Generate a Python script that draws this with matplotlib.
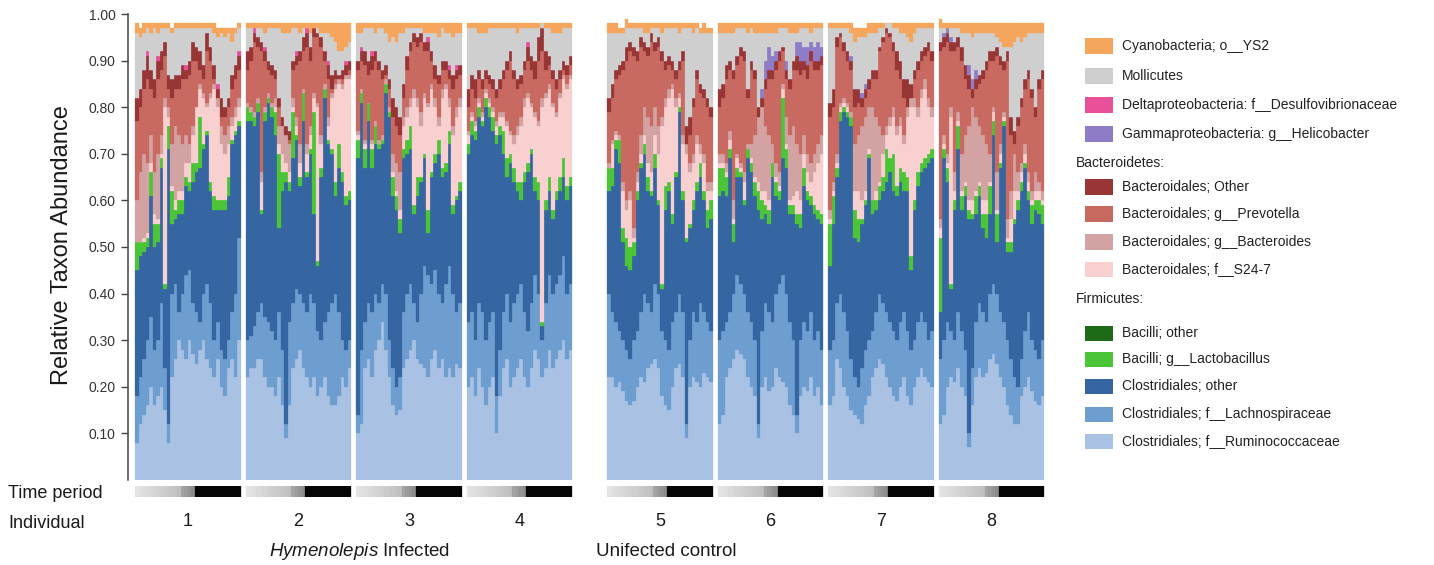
import matplotlib
matplotlib.use("Agg")
import matplotlib.pyplot as plt
import matplotlib.transforms as mtransforms
from matplotlib.patches import Rectangle
import numpy as np

plt.rcParams['font.family'] = ['Liberation Sans', 'DejaVu Sans']
plt.rcParams['mathtext.fontset'] = 'custom'
plt.rcParams['mathtext.it'] = 'Liberation Sans:italic'
plt.rcParams['mathtext.rm'] = 'Liberation Sans'

individuals = ['1', '2', '3', '4', '5', '6', '7', '8']

# cumulative levels (top edge of each layer), 30 samples per individual
top_ruminococcaceae = [
    [0.08,0.12,0.14,0.16,0.20,0.16,0.18,0.20,0.15,0.08, 0.22,0.26,0.30,0.28,0.26,0.30,0.27,0.25,0.28,0.30, 0.26,0.24,0.22,0.26,0.20,0.18,0.24,0.26,0.22,0.30],
    [0.22,0.24,0.24,0.26,0.26,0.22,0.20,0.20,0.18,0.22, 0.16,0.09,0.16,0.24,0.26,0.28,0.24,0.22,0.20,0.22, 0.18,0.20,0.22,0.18,0.16,0.16,0.18,0.22,0.20,0.24],
    [0.10,0.12,0.24,0.26,0.22,0.28,0.30,0.34,0.28,0.22, 0.16,0.14,0.15,0.24,0.26,0.28,0.30,0.26,0.25,0.24, 0.22,0.26,0.28,0.24,0.26,0.22,0.24,0.22,0.25,0.24],
    [0.20,0.22,0.18,0.24,0.20,0.16,0.20,0.22,0.10,0.18, 0.24,0.26,0.20,0.22,0.24,0.26,0.22,0.20,0.24,0.28, 0.26,0.22,0.24,0.28,0.24,0.26,0.28,0.30,0.26,0.28],
    [0.22,0.22,0.20,0.21,0.19,0.17,0.16,0.17,0.20,0.22, 0.21,0.24,0.25,0.26,0.24,0.18,0.16,0.15,0.20,0.24, 0.25,0.22,0.09,0.20,0.22,0.21,0.20,0.23,0.22,0.21],
    [0.12,0.14,0.22,0.24,0.26,0.28,0.27,0.26,0.22,0.20, 0.18,0.09,0.20,0.22,0.19,0.20,0.24,0.22,0.21,0.20, 0.16,0.14,0.10,0.18,0.20,0.19,0.22,0.18,0.20,0.16],
    [0.16,0.18,0.26,0.24,0.20,0.18,0.15,0.14,0.13,0.12, 0.16,0.18,0.22,0.24,0.26,0.25,0.22,0.20,0.18,0.17, 0.20,0.22,0.18,0.16,0.20,0.22,0.24,0.22,0.21,0.20],
    [0.12,0.14,0.20,0.22,0.21,0.24,0.20,0.18,0.07,0.16, 0.22,0.24,0.22,0.23,0.26,0.27,0.25,0.22,0.20,0.16, 0.14,0.12,0.12,0.18,0.20,0.22,0.19,0.17,0.16,0.18],
]
top_lachnospiraceae = [
    [0.18,0.22,0.26,0.30,0.35,0.28,0.30,0.38,0.24,0.12, 0.40,0.42,0.36,0.40,0.44,0.45,0.38,0.36,0.34,0.40, 0.42,0.38,0.30,0.34,0.28,0.26,0.30,0.36,0.40,0.52],
    [0.30,0.31,0.33,0.36,0.38,0.35,0.34,0.32,0.30,0.36, 0.28,0.12,0.34,0.38,0.41,0.40,0.38,0.36,0.40,0.38, 0.32,0.30,0.34,0.36,0.38,0.40,0.36,0.30,0.28,0.30],
    [0.14,0.28,0.34,0.38,0.36,0.40,0.38,0.42,0.40,0.30, 0.24,0.20,0.22,0.36,0.40,0.42,0.38,0.34,0.40,0.46, 0.44,0.42,0.45,0.40,0.38,0.42,0.46,0.40,0.36,0.38],
    [0.34,0.36,0.30,0.38,0.36,0.30,0.34,0.36,0.18,0.28, 0.36,0.40,0.34,0.38,0.40,0.42,0.36,0.32,0.38,0.44, 0.40,0.30,0.38,0.44,0.40,0.42,0.44,0.48,0.40,0.42],
    [0.40,0.36,0.34,0.32,0.30,0.28,0.26,0.30,0.32,0.36, 0.40,0.38,0.36,0.42,0.40,0.32,0.30,0.28,0.34,0.36, 0.40,0.36,0.12,0.30,0.36,0.34,0.38,0.36,0.34,0.32],
    [0.30,0.32,0.34,0.36,0.40,0.44,0.42,0.40,0.36,0.34, 0.30,0.12,0.32,0.38,0.36,0.34,0.40,0.42,0.44,0.40, 0.34,0.30,0.14,0.30,0.34,0.32,0.36,0.30,0.32,0.28],
    [0.28,0.30,0.38,0.40,0.36,0.32,0.26,0.22,0.20,0.24, 0.28,0.30,0.32,0.36,0.40,0.38,0.36,0.34,0.32,0.30, 0.34,0.36,0.32,0.28,0.30,0.34,0.36,0.34,0.30,0.32],
    [0.26,0.30,0.34,0.32,0.30,0.36,0.32,0.28,0.10,0.24, 0.34,0.38,0.36,0.34,0.40,0.42,0.40,0.36,0.34,0.30, 0.26,0.22,0.20,0.26,0.32,0.36,0.30,0.28,0.26,0.30],
]
top_clostridiales = [
    [0.45,0.48,0.49,0.50,0.61,0.50,0.51,0.67,0.41,0.71, 0.55,0.56,0.57,0.57,0.63,0.62,0.64,0.66,0.67,0.71, 0.74,0.62,0.58,0.58,0.58,0.58,0.61,0.72,0.74,0.76],
    [0.77,0.77,0.76,0.79,0.57,0.77,0.81,0.78,0.74,0.54, 0.62,0.64,0.62,0.69,0.73,0.63,0.77,0.65,0.70,0.57, 0.46,0.65,0.82,0.72,0.70,0.61,0.67,0.64,0.59,0.60],
    [0.69,0.81,0.67,0.77,0.67,0.72,0.71,0.72,0.83,0.78, 0.61,0.58,0.53,0.69,0.70,0.71,0.57,0.61,0.64,0.69, 0.53,0.65,0.68,0.70,0.65,0.66,0.72,0.57,0.60,0.62],
    [0.70,0.74,0.73,0.78,0.76,0.80,0.78,0.75,0.72,0.74, 0.70,0.65,0.68,0.64,0.62,0.60,0.64,0.66,0.70,0.62, 0.60,0.33,0.58,0.62,0.56,0.60,0.62,0.65,0.60,0.63],
    [0.62,0.63,0.71,0.68,0.51,0.46,0.45,0.48,0.60,0.67, 0.70,0.62,0.61,0.67,0.59,0.41,0.58,0.62,0.55,0.65, 0.79,0.60,0.51,0.54,0.58,0.62,0.65,0.60,0.54,0.56],
    [0.61,0.62,0.61,0.69,0.51,0.65,0.65,0.59,0.69,0.66, 0.61,0.58,0.56,0.57,0.55,0.65,0.61,0.60,0.69,0.67, 0.57,0.57,0.55,0.54,0.63,0.60,0.59,0.57,0.56,0.55],
    [0.46,0.55,0.65,0.77,0.79,0.78,0.76,0.52,0.51,0.55, 0.59,0.69,0.57,0.58,0.60,0.62,0.64,0.66,0.62,0.61, 0.64,0.62,0.62,0.45,0.58,0.63,0.66,0.67,0.68,0.69],
    [0.36,0.69,0.64,0.41,0.58,0.71,0.58,0.61,0.56,0.56, 0.57,0.61,0.54,0.52,0.57,0.74,0.51,0.67,0.76,0.49, 0.49,0.55,0.58,0.62,0.67,0.60,0.55,0.58,0.57,0.55],
]
# Lactobacillus is thin, so it is kept as its own abundance
lactobacillus = [
    [0.06,0.03,0.02,0.02,0.05,0.05,0.04,0.02,0.01,0.05, 0.07,0.02,0.03,0.03,0.02,0.02,0.04,0.02,0.11,0.01, 0.01,0.02,0.03,0.02,0.02,0.02,0.04,0.01,0.01,0.01],
    [0.03,0.02,0.02,0.02,0.01,0.02,0.01,0.02,0.05,0.16, 0.04,0.02,0.02,0.10,0.01,0.02,0.06,0.01,0.01,0.22, 0.01,0.02,0.02,0.01,0.01,0.03,0.05,0.02,0.02,0.02],
    [0.04,0.02,0.04,0.04,0.04,0.04,0.01,0.01,0.02,0.01, 0.04,0.03,0.03,0.02,0.03,0.05,0.02,0.04,0.01,0.01, 0.05,0.01,0.02,0.03,0.02,0.02,0.03,0.02,0.01,0.02],
    [0.02,0.03,0.02,0.02,0.01,0.02,0.02,0.03,0.02,0.02, 0.05,0.04,0.02,0.03,0.02,0.04,0.02,0.02,0.01,0.03, 0.04,0.01,0.02,0.03,0.02,0.02,0.03,0.04,0.03,0.02],
    [0.05,0.04,0.02,0.05,0.03,0.06,0.05,0.03,0.02,0.01, 0.02,0.03,0.01,0.03,0.01,0.01,0.05,0.02,0.02,0.01, 0.01,0.02,0.01,0.01,0.02,0.02,0.03,0.02,0.04,0.04],
    [0.06,0.05,0.04,0.02,0.04,0.02,0.01,0.01,0.02,0.02, 0.03,0.04,0.04,0.02,0.03,0.03,0.03,0.02,0.13,0.04, 0.02,0.02,0.02,0.03,0.04,0.02,0.02,0.02,0.02,0.02],
    [0.09,0.06,0.02,0.02,0.01,0.01,0.02,0.06,0.05,0.01, 0.01,0.01,0.03,0.02,0.03,0.03,0.07,0.03,0.08,0.02, 0.03,0.04,0.03,0.03,0.02,0.03,0.02,0.02,0.02,0.02],
    [0.16,0.02,0.03,0.01,0.02,0.05,0.03,0.02,0.02,0.01, 0.04,0.02,0.03,0.05,0.06,0.03,0.06,0.01,0.01,0.02, 0.02,0.01,0.02,0.02,0.01,0.02,0.04,0.02,0.03,0.04],
]
top_s24_7 = [
    [0.47,0.50,0.52,0.53,0.68,0.57,0.56,0.70,0.80,0.78, 0.63,0.60,0.62,0.62,0.68,0.68,0.74,0.80,0.84,0.82, 0.80,0.82,0.84,0.80,0.72,0.70,0.72,0.76,0.78,0.80],
    [0.80,0.79,0.78,0.81,0.64,0.79,0.82,0.80,0.80,0.72, 0.70,0.68,0.66,0.80,0.76,0.68,0.83,0.70,0.74,0.82, 0.80,0.72,0.84,0.76,0.82,0.84,0.85,0.84,0.86,0.86],
    [0.74,0.83,0.72,0.78,0.72,0.76,0.72,0.73,0.85,0.79, 0.66,0.62,0.58,0.76,0.78,0.80,0.82,0.80,0.76,0.82, 0.80,0.84,0.80,0.76,0.82,0.84,0.80,0.74,0.78,0.80],
    [0.74,0.78,0.76,0.81,0.78,0.83,0.81,0.79,0.76,0.78, 0.78,0.76,0.74,0.72,0.74,0.76,0.80,0.82,0.80,0.78, 0.76,0.80,0.82,0.84,0.80,0.78,0.82,0.86,0.84,0.86],
    [0.67,0.72,0.74,0.73,0.62,0.58,0.60,0.52,0.64,0.70, 0.74,0.68,0.66,0.74,0.70,0.76,0.80,0.82,0.84,0.80, 0.82,0.72,0.70,0.66,0.68,0.72,0.70,0.68,0.62,0.62],
    [0.68,0.68,0.66,0.73,0.56,0.69,0.67,0.64,0.71,0.69, 0.65,0.64,0.62,0.62,0.60,0.68,0.65,0.63,0.84,0.72, 0.60,0.61,0.62,0.60,0.70,0.66,0.64,0.66,0.68,0.70],
    [0.56,0.62,0.68,0.80,0.81,0.80,0.78,0.62,0.62,0.60, 0.62,0.71,0.60,0.62,0.64,0.70,0.74,0.76,0.78,0.74, 0.76,0.72,0.78,0.80,0.80,0.78,0.82,0.84,0.80,0.78],
    [0.54,0.72,0.68,0.78,0.62,0.77,0.62,0.64,0.60,0.60, 0.62,0.64,0.60,0.60,0.64,0.79,0.58,0.70,0.78,0.52, 0.56,0.62,0.62,0.66,0.70,0.64,0.60,0.62,0.62,0.60],
]
top_bacteroides = [
    [0.60,0.66,0.70,0.68,0.74,0.66,0.70,0.74,0.82,0.80, 0.72,0.76,0.74,0.72,0.74,0.72,0.76,0.80,0.85,0.83, 0.81,0.83,0.85,0.82,0.76,0.74,0.76,0.78,0.80,0.82],
    [0.81,0.80,0.79,0.82,0.66,0.80,0.83,0.81,0.82,0.76, 0.76,0.74,0.72,0.82,0.78,0.72,0.84,0.72,0.76,0.83, 0.81,0.74,0.85,0.78,0.83,0.85,0.86,0.85,0.87,0.87],
    [0.75,0.84,0.73,0.79,0.73,0.77,0.73,0.74,0.86,0.80, 0.70,0.68,0.66,0.78,0.80,0.82,0.84,0.82,0.79,0.83, 0.81,0.85,0.82,0.78,0.84,0.85,0.82,0.76,0.80,0.82],
    [0.75,0.79,0.77,0.82,0.79,0.84,0.82,0.80,0.77,0.79, 0.79,0.77,0.75,0.74,0.76,0.78,0.82,0.83,0.81,0.79, 0.77,0.82,0.83,0.85,0.81,0.79,0.83,0.87,0.85,0.87],
    [0.68,0.73,0.75,0.74,0.64,0.60,0.62,0.54,0.66,0.74, 0.80,0.78,0.76,0.80,0.76,0.78,0.82,0.84,0.85,0.82, 0.83,0.74,0.72,0.68,0.70,0.74,0.72,0.70,0.64,0.64],
    [0.70,0.70,0.68,0.75,0.60,0.70,0.68,0.66,0.72,0.72, 0.74,0.78,0.80,0.76,0.74,0.72,0.68,0.66,0.85,0.78, 0.74,0.76,0.72,0.70,0.74,0.70,0.68,0.70,0.72,0.74],
    [0.58,0.64,0.70,0.81,0.82,0.81,0.79,0.72,0.74,0.76, 0.78,0.80,0.80,0.78,0.76,0.74,0.76,0.78,0.80,0.76, 0.78,0.74,0.80,0.82,0.82,0.80,0.84,0.86,0.82,0.80],
    [0.56,0.74,0.70,0.80,0.66,0.79,0.70,0.74,0.76,0.80, 0.78,0.76,0.74,0.72,0.70,0.80,0.66,0.72,0.79,0.56, 0.62,0.70,0.66,0.68,0.72,0.66,0.62,0.66,0.64,0.62],
]
top_prevotella = [
    [0.77,0.80,0.84,0.86,0.84,0.82,0.86,0.88,0.91,0.84, 0.82,0.84,0.84,0.86,0.86,0.87,0.90,0.90,0.88,0.86, 0.92,0.90,0.86,0.80,0.78,0.78,0.80,0.84,0.86,0.88],
    [0.88,0.90,0.94,0.93,0.92,0.90,0.88,0.87,0.86,0.80, 0.76,0.74,0.73,0.88,0.89,0.90,0.92,0.93,0.90,0.95, 0.95,0.93,0.90,0.86,0.84,0.86,0.85,0.86,0.87,0.88],
    [0.88,0.90,0.89,0.87,0.88,0.90,0.88,0.86,0.87,0.84, 0.78,0.76,0.74,0.82,0.88,0.92,0.94,0.93,0.94,0.92, 0.92,0.90,0.86,0.85,0.88,0.88,0.86,0.84,0.86,0.87],
    [0.80,0.84,0.82,0.86,0.84,0.86,0.85,0.84,0.82,0.84, 0.86,0.88,0.90,0.86,0.84,0.85,0.88,0.90,0.88,0.86, 0.90,0.92,0.88,0.89,0.86,0.84,0.86,0.88,0.87,0.89],
    [0.79,0.82,0.86,0.87,0.88,0.90,0.92,0.91,0.90,0.93, 0.92,0.91,0.94,0.92,0.93,0.90,0.88,0.89,0.88,0.86, 0.88,0.90,0.72,0.74,0.80,0.86,0.83,0.82,0.80,0.78],
    [0.80,0.82,0.86,0.88,0.86,0.89,0.91,0.90,0.82,0.88, 0.86,0.76,0.78,0.84,0.86,0.86,0.88,0.90,0.92,0.86, 0.84,0.88,0.88,0.87,0.88,0.86,0.90,0.88,0.88,0.89],
    [0.78,0.80,0.93,0.95,0.92,0.90,0.88,0.80,0.81,0.80, 0.82,0.84,0.86,0.86,0.92,0.94,0.96,0.95,0.92,0.88, 0.86,0.82,0.80,0.82,0.86,0.88,0.90,0.91,0.92,0.90],
    [0.92,0.93,0.94,0.92,0.92,0.93,0.90,0.86,0.84,0.82, 0.84,0.85,0.86,0.88,0.90,0.90,0.91,0.89,0.88,0.90, 0.74,0.72,0.76,0.80,0.84,0.86,0.82,0.78,0.84,0.86],
]
top_bacteroidales_other = [
    [0.82,0.84,0.88,0.91,0.88,0.86,0.90,0.92,0.94,0.87, 0.86,0.87,0.87,0.89,0.88,0.90,0.94,0.93,0.92,0.89, 0.96,0.93,0.89,0.84,0.82,0.80,0.82,0.87,0.89,0.91],
    [0.92,0.93,0.96,0.95,0.94,0.92,0.90,0.89,0.88,0.82, 0.78,0.76,0.75,0.90,0.91,0.92,0.95,0.96,0.93,0.97, 0.96,0.95,0.92,0.89,0.87,0.88,0.87,0.88,0.89,0.90],
    [0.90,0.92,0.92,0.90,0.91,0.92,0.90,0.88,0.89,0.86, 0.82,0.80,0.78,0.85,0.91,0.94,0.96,0.95,0.96,0.94, 0.94,0.92,0.89,0.87,0.90,0.90,0.88,0.87,0.88,0.89],
    [0.84,0.87,0.86,0.88,0.86,0.88,0.87,0.86,0.84,0.86, 0.88,0.90,0.92,0.88,0.86,0.87,0.90,0.93,0.91,0.90, 0.95,0.97,0.92,0.91,0.88,0.86,0.88,0.90,0.89,0.91],
    [0.82,0.85,0.88,0.89,0.90,0.93,0.94,0.93,0.92,0.95, 0.94,0.93,0.96,0.94,0.95,0.92,0.90,0.91,0.90,0.88, 0.90,0.92,0.76,0.78,0.82,0.88,0.85,0.84,0.82,0.80],
    [0.84,0.85,0.89,0.90,0.88,0.91,0.93,0.92,0.84,0.90, 0.88,0.80,0.82,0.86,0.88,0.88,0.90,0.92,0.93,0.88, 0.86,0.90,0.91,0.90,0.90,0.89,0.92,0.90,0.90,0.91],
    [0.81,0.84,0.95,0.96,0.94,0.92,0.90,0.84,0.84,0.82, 0.84,0.86,0.88,0.88,0.93,0.95,0.97,0.96,0.94,0.92, 0.90,0.86,0.86,0.85,0.88,0.90,0.92,0.93,0.94,0.92],
    [0.94,0.95,0.96,0.94,0.94,0.95,0.93,0.89,0.87,0.84, 0.86,0.87,0.88,0.90,0.92,0.92,0.93,0.91,0.90,0.92, 0.78,0.75,0.78,0.82,0.86,0.88,0.84,0.80,0.86,0.88],
]
desulfovibrionaceae = [
    [0,0,0,0.01,0,0,0.01,0,0,0, 0,0,0,0,0.01,0,0,0,0,0, 0,0,0,0.01,0,0,0,0,0,0.01],
    [0,0,0.01,0,0,0.01,0,0,0,0, 0,0,0,0,0.01,0,0,0.01,0,0, 0,0,0,0.01,0,0,0,0,0.01,0],
    [0,0.01,0,0,0.01,0,0,0,0,0, 0,0,0,0,0,0,0,0,0,0, 0.01,0,0,0,0,0,0.01,0,0.01,0],
    [0,0,0,0,0,0,0,0,0,0, 0,0,0,0,0,0,0,0.01,0,0, 0,0,0,0,0,0,0,0,0,0],
    [0,0,0,0,0,0,0,0,0,0, 0,0,0,0,0,0,0,0,0,0, 0,0,0,0,0,0,0,0,0,0],
    [0,0,0,0,0,0,0,0,0,0, 0,0,0,0,0,0,0,0,0,0, 0,0,0,0,0,0,0,0,0,0],
    [0,0,0,0,0,0,0,0,0,0, 0,0,0,0,0,0,0,0,0,0, 0,0,0,0,0,0,0,0,0,0],
    [0,0,0,0,0,0,0,0,0,0, 0,0,0,0,0,0,0,0,0,0, 0,0,0,0,0,0,0,0,0,0],
]
helicobacter = [
    [0,0,0,0,0,0,0,0,0,0, 0,0,0,0,0,0,0,0,0,0, 0,0,0,0,0,0,0,0,0,0],
    [0,0,0,0,0,0,0,0,0,0, 0,0,0,0,0,0,0,0,0,0, 0,0,0,0,0,0,0,0,0,0],
    [0,0,0,0,0,0,0,0,0,0, 0,0,0,0,0,0,0,0,0,0, 0,0,0,0,0,0,0,0,0,0],
    [0,0,0,0,0,0,0,0,0,0, 0,0,0,0,0,0,0,0,0,0, 0,0,0,0,0,0,0,0,0,0],
    [0,0,0,0,0,0,0,0,0,0, 0,0,0,0,0,0,0,0,0,0, 0,0,0,0,0,0,0,0,0,0],
    [0,0,0,0,0,0,0,0,0,0, 0,0,0.02,0.04,0.05,0.03,0.02,0,0,0.02, 0,0,0.03,0.04,0.03,0.04,0.02,0.03,0.04,0.02],
    [0,0,0,0,0,0,0.01,0,0,0.01, 0.01,0,0,0,0,0,0,0,0,0, 0,0,0,0,0,0,0,0,0,0],
    [0,0.01,0.01,0.01,0,0,0,0,0.02,0.02, 0.02,0,0,0,0,0,0,0,0,0, 0,0,0,0,0,0,0,0,0,0],
]
top_mollicutes = [
    [0.96,0.95,0.96,0.97,0.96,0.97,0.96,0.97,0.97,0.97, 0.96,0.97,0.97,0.97,0.97,0.97,0.97,0.97,0.97,0.97, 0.97,0.97,0.96,0.95,0.96,0.95,0.96,0.94,0.96,0.97],
    [0.97,0.97,0.97,0.97,0.97,0.96,0.97,0.97,0.97,0.97, 0.96,0.96,0.96,0.97,0.97,0.96,0.97,0.97,0.96,0.97, 0.97,0.96,0.96,0.96,0.95,0.94,0.92,0.92,0.93,0.94],
    [0.96,0.96,0.97,0.97,0.97,0.96,0.97,0.97,0.96,0.94, 0.95,0.94,0.96,0.96,0.97,0.97,0.97,0.97,0.97,0.96, 0.96,0.96,0.96,0.95,0.97,0.96,0.96,0.95,0.96,0.96],
    [0.97,0.97,0.97,0.96,0.96,0.96,0.97,0.97,0.97,0.97, 0.97,0.97,0.97,0.97,0.96,0.97,0.97,0.97,0.97,0.97, 0.97,0.98,0.97,0.97,0.96,0.96,0.96,0.97,0.97,0.97],
    [0.96,0.96,0.96,0.96,0.96,0.97,0.97,0.97,0.97,0.97, 0.96,0.96,0.97,0.97,0.97,0.96,0.97,0.97,0.97,0.97, 0.96,0.97,0.97,0.97,0.96,0.97,0.96,0.96,0.96,0.96],
    [0.96,0.96,0.96,0.96,0.96,0.97,0.97,0.97,0.96,0.97, 0.96,0.96,0.96,0.96,0.96,0.96,0.96,0.97,0.97,0.97, 0.96,0.96,0.96,0.97,0.97,0.97,0.96,0.97,0.97,0.97],
    [0.97,0.97,0.97,0.97,0.97,0.97,0.96,0.94,0.95,0.95, 0.95,0.96,0.96,0.96,0.97,0.97,0.98,0.98,0.97,0.97, 0.96,0.96,0.95,0.94,0.96,0.97,0.97,0.97,0.97,0.97],
    [0.97,0.97,0.97,0.97,0.97,0.97,0.96,0.96,0.96,0.95, 0.96,0.96,0.96,0.96,0.96,0.96,0.95,0.94,0.93,0.93, 0.93,0.94,0.95,0.94,0.95,0.96,0.96,0.96,0.96,0.96],
]
cyanobacteria = [
    [0.02,0.02,0.02,0.01,0.02,0.01,0.02,0.01,0.01,0.01, 0.01,0.01,0.01,0.01,0.01,0.01,0.01,0.01,0.01,0.01, 0.01,0.01,0.02,0.02,0.01,0.02,0.01,0.03,0.01,0.01],
    [0.01,0.01,0.01,0.01,0.01,0.02,0.01,0.01,0.01,0.01, 0.02,0.02,0.02,0.01,0.01,0.02,0.01,0.01,0.02,0.01, 0.01,0.02,0.02,0.02,0.03,0.04,0.06,0.06,0.05,0.04],
    [0.02,0.02,0.01,0.01,0.01,0.02,0.01,0.01,0.02,0.04, 0.03,0.04,0.02,0.02,0.01,0.01,0.01,0.01,0.01,0.02, 0.02,0.02,0.02,0.03,0.01,0.02,0.02,0.03,0.02,0.02],
    [0.01,0.01,0.01,0.02,0.02,0.02,0.01,0.01,0.01,0.01, 0.01,0.01,0.01,0.01,0.02,0.01,0.01,0.01,0.01,0.01, 0.01,0.00,0.01,0.01,0.02,0.02,0.02,0.01,0.01,0.01],
    [0.02,0.02,0.02,0.01,0.01,0.02,0.01,0.01,0.01,0.01, 0.02,0.02,0.01,0.01,0.01,0.02,0.01,0.01,0.01,0.01, 0.02,0.01,0.01,0.01,0.02,0.01,0.01,0.02,0.01,0.01],
    [0.02,0.02,0.02,0.02,0.02,0.01,0.01,0.01,0.02,0.01, 0.02,0.02,0.02,0.02,0.02,0.02,0.02,0.01,0.01,0.01, 0.02,0.02,0.02,0.01,0.01,0.01,0.02,0.01,0.01,0.01],
    [0.01,0.01,0.01,0.01,0.01,0.01,0.02,0.03,0.02,0.02, 0.02,0.02,0.02,0.02,0.01,0.01,0.00,0.00,0.01,0.01, 0.02,0.02,0.03,0.04,0.02,0.01,0.01,0.01,0.01,0.01],
    [0.02,0.01,0.01,0.01,0.01,0.01,0.02,0.02,0.02,0.03, 0.02,0.02,0.02,0.02,0.02,0.02,0.03,0.04,0.05,0.05, 0.05,0.04,0.03,0.04,0.03,0.02,0.02,0.02,0.02,0.02],
]
# shade of the time-period strip under each sample (same sampling scheme for all mice)
time_period = ['#e4e4e4', '#e1e1e1', '#dedede', '#dbdbdb', '#d8d8d8', '#d5d5d5', '#d2d2d2',
               '#cfcfcf', '#cccccc', '#c9c9c9', '#c6c6c6', '#c3c3c3', '#c0c0c0',
               '#a4a4a4', '#9c9c9c', '#949494', '#8c8c8c',
               '#050505', '#050505', '#050505', '#050505', '#050505', '#050505', '#050505',
               '#050505', '#050505', '#050505', '#050505', '#050505', '#050505']

# stacking order bottom -> top
layer_colors = ['#a9c2e3', '#6e9dd0', '#3566a1', '#4cc437', '#f8d0d0', '#d3a3a3',
                '#c96a62', '#983636', '#e8509a', '#8f7cc6', '#cfcfcf', '#f5a55c']

legend_items = [
    ('Cyanobacteria; o__YS2', '#f5a55c'),
    ('Mollicutes', '#cfcfcf'),
    ('Deltaproteobacteria: f__Desulfovibrionaceae', '#e8509a'),
    ('Gammaproteobacteria: g__Helicobacter', '#8f7cc6'),
    ('Bacteroidetes:', None),
    ('Bacteroidales; Other', '#983636'),
    ('Bacteroidales; g__Prevotella', '#c96a62'),
    ('Bacteroidales; g__Bacteroides', '#d3a3a3'),
    ('Bacteroidales; f__S24-7', '#f8d0d0'),
    ('Firmicutes:', None),
    ('Bacilli; other', '#1e6a16'),
    ('Bacilli; g__Lactobacillus', '#4cc437'),
    ('Clostridiales; other', '#3566a1'),
    ('Clostridiales; f__Lachnospiraceae', '#6e9dd0'),
    ('Clostridiales; f__Ruminococcaceae', '#a9c2e3'),
]
legend_y = [46, 76, 105, 134, 163, 187, 214, 242, 269, 299, 333, 359, 386, 414, 441]

W, H = 1434, 565
fig = plt.figure(figsize=(W / 100, H / 100), dpi=100)
ax = fig.add_axes([128 / W, 85 / H, 920 / W, 466 / H])
ax_t = fig.add_axes([128 / W, (H - 497) / H, 920 / W, 11 / H])

n = 30
starts = []
for k in range(len(individuals)):
    s = k * 31.4 + (8.6 if k >= 4 else 0)
    starts.append(s)
    x = s + np.arange(n) + 0.5
    tops = np.array([
        top_ruminococcaceae[k],
        top_lachnospiraceae[k],
        top_clostridiales[k],
    ])
    lacto_top = tops[2] + np.array(lactobacillus[k])
    levels = np.vstack([tops, lacto_top, top_s24_7[k], top_bacteroides[k],
                        top_prevotella[k], top_bacteroidales_other[k]])
    levels = np.maximum.accumulate(levels, axis=0)
    desu_top = levels[-1] + np.array(desulfovibrionaceae[k])
    heli_top = desu_top + np.array(helicobacter[k])
    moll_top = np.maximum(np.array(top_mollicutes[k]), heli_top)
    cyan_top = moll_top + np.array(cyanobacteria[k])
    levels = np.vstack([levels, desu_top, heli_top, moll_top, cyan_top])
    bottoms = np.vstack([np.zeros(n), levels[:-1]])
    for j, c in enumerate(layer_colors):
        ax.bar(x, levels[j] - bottoms[j], bottom=bottoms[j], width=1.0,
               color=c, edgecolor=c, linewidth=0.2)
    ax_t.bar(x, np.ones(n), width=1.0, color=time_period, edgecolor=time_period,
             linewidth=0.2)

xmax = starts[-1] + n + 1
for a in (ax, ax_t):
    a.set_xlim(-2, xmax)
ax.set_ylim(0, 1.0)
ax_t.set_ylim(0, 1)
ax_t.axis('off')

ax.set_yticks(np.arange(0.1, 1.001, 0.1))
ax.set_yticklabels([f'{v:.2f}' for v in np.arange(0.1, 1.001, 0.1)])
ax.tick_params(axis='y', direction='out', length=5, width=1, color='#444444',
               labelsize=10, labelcolor='#333333', pad=4)
ax.set_xticks([])
for side in ('top', 'right', 'bottom'):
    ax.spines[side].set_visible(False)
ax.spines['left'].set_color('#444444')
ax.spines['left'].set_linewidth(1.1)

fig.text(62 / W, 1 - 245 / H, 'Relative Taxon Abundance', rotation=90,
         ha='center', va='center', fontsize=17, color='#1a1a1a')

trans = mtransforms.blended_transform_factory(ax.transData, fig.transFigure)
for k, name in enumerate(individuals):
    ax.text(starts[k] + n / 2, 1 - 521 / H, name, transform=trans,
            ha='center', va='center', fontsize=13, color='#1a1a1a')

fig.text(8 / W, 1 - 493 / H, 'Time period', ha='left', va='center', fontsize=13, color='#1a1a1a')
fig.text(8 / W, 1 - 523 / H, 'Individual', ha='left', va='center', fontsize=13, color='#1a1a1a')
fig.text(360 / W, 1 - 551 / H, r'$\mathit{Hymenolepis}$ Infected', ha='center', va='center',
         fontsize=13.5, color='#1a1a1a')
fig.text(666 / W, 1 - 551 / H, 'Unifected control', ha='center', va='center',
         fontsize=13.5, color='#1a1a1a')

for (label, color), yc in zip(legend_items, legend_y):
    if color is None:
        fig.text(1076 / W, 1 - yc / H, label, ha='left', va='center', fontsize=10, color='#222222')
    else:
        fig.patches.append(Rectangle((1085 / W, 1 - (yc + 7.5) / H), 28 / W, 15 / H,
                                     transform=fig.transFigure, facecolor=color,
                                     edgecolor='none'))
        fig.text(1122 / W, 1 - yc / H, label, ha='left', va='center', fontsize=10, color='#222222')

fig.savefig('out.png', dpi=100)
